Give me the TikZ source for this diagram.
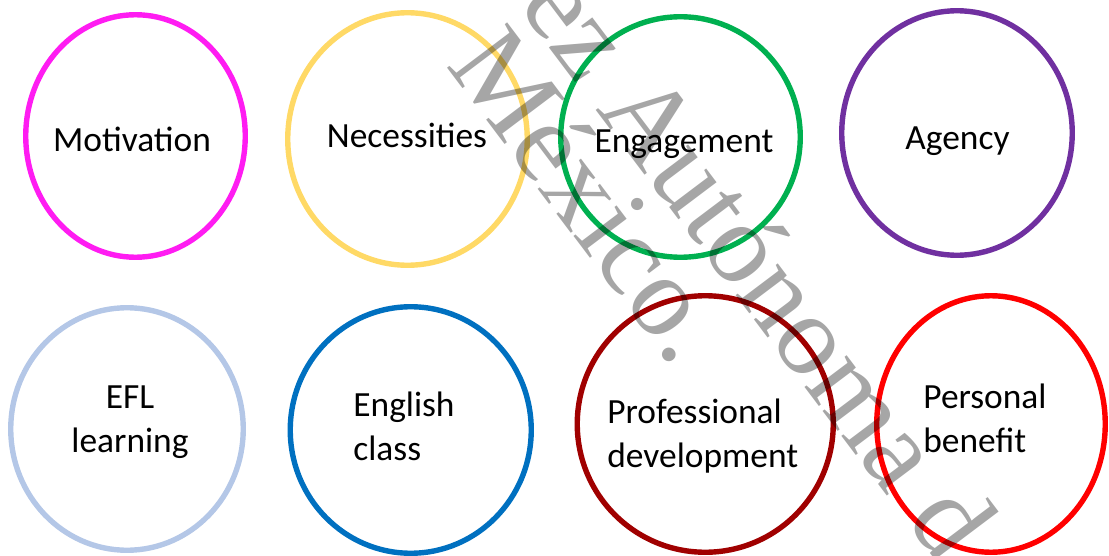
\documentclass[tikz,border=0pt]{standalone}
\usepackage{fontspec}
\setmainfont{Carlito}
\newfontfamily\wmfont{Liberation Serif}
\usetikzlibrary{shapes.geometric}
\definecolor{cMot}{RGB}{255,28,242}
\definecolor{cNec}{RGB}{255,217,102}
\definecolor{cEng}{RGB}{0,176,80}
\definecolor{cAgy}{RGB}{112,48,160}
\definecolor{cEfl}{RGB}{180,199,231}
\definecolor{cCls}{RGB}{0,112,192}
\definecolor{cPro}{RGB}{160,0,0}
\definecolor{cPer}{RGB}{255,0,0}
\definecolor{wmgray}{RGB}{166,166,166}
\tikzset{ring/.style 2 args={ellipse, draw, line width=2.7pt,
  minimum width=#1pt, minimum height=#2pt, inner sep=0pt}}
\tikzset{lbl/.style={font=\fontsize{17.7}{22}\selectfont, inner sep=0pt}}
\tikzset{wm/.style={font=\wmfont\fontsize{57.5}{60}\selectfont,
  text=wmgray, rotate=-53, inner sep=0pt}}

\begin{document}
\begin{tikzpicture}[x=0.5pt,y=0.5pt]
    \useasboundingbox (0,0) rectangle (1109,-556);
    \clip (0,0) rectangle (1109,-556);
    % top row
    \node[ring={109.75}{121.25}, draw=cMot] (mot) at (135.5,-136) {};
    \node[ring={119.75}{126.25}, draw=cNec] (nec) at (407.5,-139) {};
    \node[ring={119.75}{120.25}, draw=cEng] (eng) at (680.5,-137) {};
    \node[ring={115.25}{122.25}, draw=cAgy] (agy) at (957,-133) {};
    \node[lbl, anchor=base] (tMot) at (132,-152) {Motivation};
    \node[lbl, anchor=base] (tNec) at (407,-148) {Necessities};
    \node[lbl, anchor=base] (tEng) at (684,-153) {Engagement};
    \node[lbl, anchor=base] (tAgy) at (957.5,-149) {Agency};
    % bottom row (base = last line)
    \node[ring={116.25}{121.25}, draw=cEfl] (efl) at (127,-429) {};
    \node[ring={120.5}{123.25}, draw=cCls] (cls) at (410.75,-430) {};
    \node[ring={128}{128.25}, draw=cPro] (pro) at (705.25,-424) {};
    \node[ring={114.25}{128.25}, draw=cPer] (per) at (991,-424) {};
    \node[lbl, align=center, anchor=base] (tEfl) at (130,-452) {EFL\\learning};
    \node[lbl, align=left, anchor=base west] (tCls) at (353,-460) {English\\class};
    \node[lbl, align=left, anchor=base west] (tPro) at (607,-467) {Professional\\development};
    \node[lbl, align=left, anchor=base west] (tPer) at (923,-452) {Personal\\benefit};
    % watermark
    \begin{scope}[blend mode=multiply]
        \node[wm] (wm1) at (760,-262) {ez Autónoma d};
        \node[wm] (wm2) at (591,-194) {México.};
    \end{scope}
\end{tikzpicture}
\end{document}
